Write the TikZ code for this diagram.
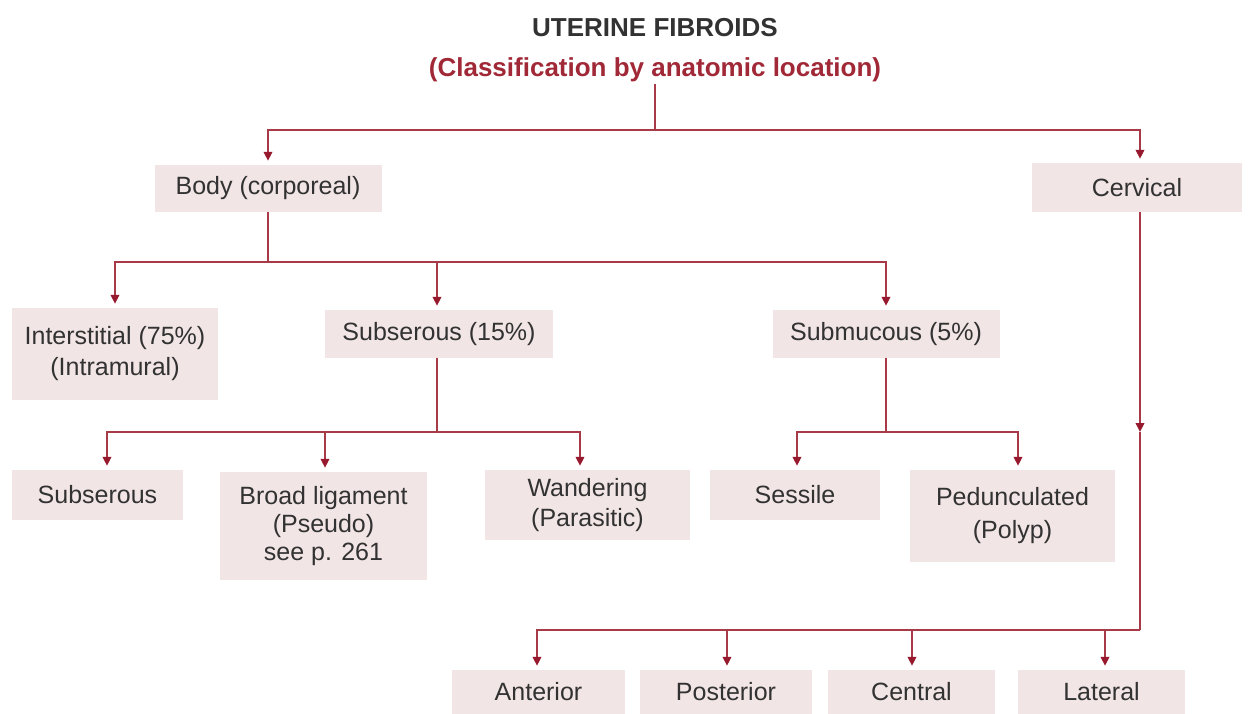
\documentclass[tikz,border=0pt]{standalone}
\usepackage{fontspec}
\setmainfont{Liberation Sans}
\usetikzlibrary{arrows.meta}
\definecolor{linered}{RGB}{168,58,72}
\definecolor{tipred}{RGB}{150,25,45}
\definecolor{boxfill}{RGB}{242,229,229}
\definecolor{subred}{RGB}{160,40,55}
\definecolor{txtgray}{RGB}{50,50,50}
\tikzset{
  box/.style={fill=boxfill, draw=none, inner sep=0pt, align=center,
    text=txtgray, font=\fontsize{25}{31}\selectfont},
  conn/.style={draw=linered, line width=2pt},
  arr/.style={conn, -{Triangle[length=9pt,width=8.5pt,color=tipred]}, shorten >=4pt},
}
\begin{document}
\begin{tikzpicture}[x=1pt,y=-1pt]
\useasboundingbox (0,0) rectangle (1248,713);
% titles
\node[font=\fontsize{26}{31}\selectfont\bfseries, text=txtgray] (title) at (655,28) {UTERINE FIBROIDS};
\node[font=\fontsize{26}{31}\selectfont\bfseries, text=subred, inner sep=2pt] (sub) at (655,70) {(Classification by anatomic location)};
% level 1
\node[box, minimum width=227, minimum height=47] (body) at (268,188.5) {Body (corporeal)};
\node[box, minimum width=210, minimum height=49] (cerv) at (1137,187.5) {Cervical};
% level 2
\node[box, minimum width=206, minimum height=92] (inter) at (115,354) {Interstitial (75\%)\\(Intramural)};
\node[box, minimum width=228, minimum height=48] (subs15) at (439,334) {Subserous (15\%)};
\node[box, minimum width=227, minimum height=48] (subm) at (886,334) {Submucous (5\%)};
% level 3
\node[box, minimum width=171, minimum height=50] (subs) at (97.5,495) {Subserous};
\node[box, minimum width=207, minimum height=108, font=\fontsize{25}{28}\selectfont] (broad) at (323.5,526) {Broad ligament\\(Pseudo)\\see p. 261};
\node[box, minimum width=205, minimum height=70, font=\fontsize{25}{30}\selectfont] (wand) at (587.5,505) {Wandering\\(Parasitic)};
\node[box, minimum width=170, minimum height=50] (sess) at (795,495) {Sessile};
\node[box, minimum width=205, minimum height=92, font=\fontsize{25}{33}\selectfont] (ped) at (1012.5,516) {Pedunculated\\(Polyp)};
% bottom row
\node[box, minimum width=173, minimum height=44] (ant) at (538.5,692) {Anterior};
\node[box, minimum width=172, minimum height=44] (post) at (726,692) {Posterior};
\node[box, minimum width=167, minimum height=44] (cent) at (911.5,692) {Central};
\node[box, minimum width=167, minimum height=44] (lat) at (1101.5,692) {Lateral};
% junctions
\coordinate (j0) at (655,130);
\coordinate (j1) at (268,262);
\coordinate (j2) at (437,432);
\coordinate (j3) at (886,432);
\coordinate (cm) at (1140,432);
\coordinate (j4) at (1140,630);
% connectors
\draw[conn] (sub.south) -- (j0);
\draw[arr] (j0) -| (body.north);
\draw[arr] (j0) -| ([xshift=3]cerv.north);
\draw[conn] (body.south) -- (j1);
\draw[arr] (j1) -| (inter.north);
\draw[arr] (j1) -| (subm.north);
\draw[arr] ([xshift=-2]subs15.north |- j1) -- ([xshift=-2]subs15.north);
\draw[conn] ([xshift=-2]subs15.south) -- (j2);
\draw[arr] (j2) -| ([xshift=9.5]subs.north);
\draw[arr] (j2) -| ([xshift=1.5]broad.north);
\draw[arr] (j2) -| ([xshift=-7.5]wand.north);
\draw[conn] (subm.south) -- (j3);
\draw[arr] (j3) -| ([xshift=2]sess.north);
\draw[arr] (j3) -| ([xshift=5.5]ped.north);
\draw[arr, shorten >=0pt] ([xshift=3]cerv.south) -- (cm);
\draw[conn] (cm) -- (j4);
\draw[arr] (j4) -| ([xshift=-1.5]ant.north);
\draw[arr] ([xshift=1]post.north |- j4) -- ([xshift=1]post.north);
\draw[arr] ([xshift=0.5]cent.north |- j4) -- ([xshift=0.5]cent.north);
\draw[arr] ([xshift=3.5]lat.north |- j4) -- ([xshift=3.5]lat.north);
\end{tikzpicture}
\end{document}
